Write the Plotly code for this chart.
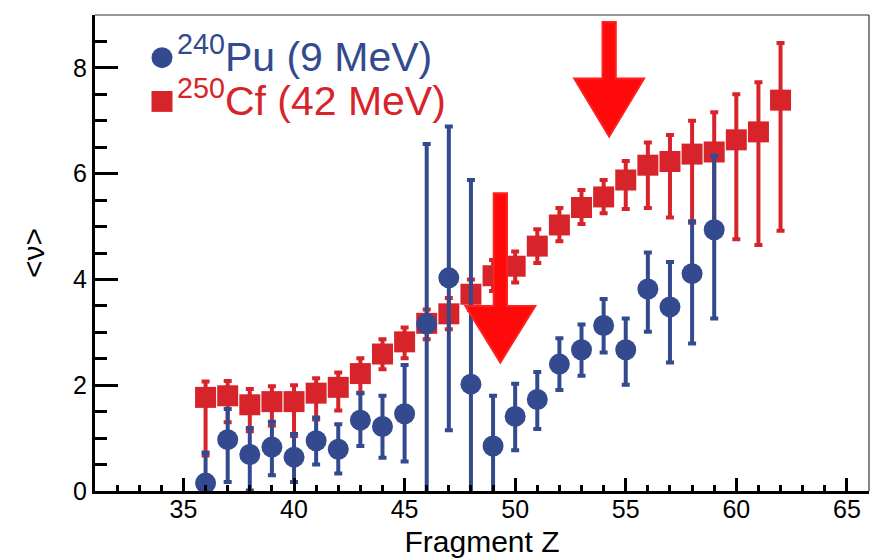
import plotly.graph_objects as go

# Mean neutron multiplicity vs fragment charge
z_pu = list(range(36, 60))
nu_pu = [0.15, 0.97, 0.69, 0.83, 0.64, 0.95, 0.79, 1.34, 1.22, 1.46, 3.16, 4.03,
         2.02, 0.85, 1.41, 1.73, 2.40, 2.67, 3.13, 2.67, 3.82, 3.48, 4.11, 4.94]
err_pu_hi = [0.58, 0.58, 0.50, 0.48, 0.44, 0.44, 0.47, 0.51, 0.58, 0.92, 3.40, 2.86,
             3.86, 0.95, 0.62, 0.52, 0.49, 0.48, 0.50, 0.59, 0.69, 0.85, 0.99, 1.40]
err_pu_lo = [0.58, 0.80, 0.68, 0.53, 0.47, 0.45, 0.46, 0.49, 0.59, 0.90, 3.40, 2.88,
             3.86, 0.95, 0.64, 0.56, 0.49, 0.49, 0.51, 0.66, 0.81, 1.05, 1.32, 1.68]

z_cf = list(range(36, 63))
nu_cf = [1.77, 1.80, 1.63, 1.69, 1.69, 1.85, 1.96, 2.22, 2.59, 2.82, 3.17, 3.35, 3.72, 4.07,
         4.25, 4.63, 5.03, 5.36, 5.56, 5.88, 6.16, 6.23, 6.37, 6.41, 6.64, 6.79, 7.39]
err_cf_hi = [0.30, 0.28, 0.30, 0.29, 0.31, 0.28, 0.28, 0.29, 0.28, 0.27, 0.26, 0.30, 0.28, 0.30,
             0.28, 0.32, 0.32, 0.33, 0.32, 0.36, 0.43, 0.50, 0.63, 0.75, 0.86, 0.94, 1.08]
err_cf_lo = [1.10, 0.50, 0.50, 0.45, 0.65, 0.50, 0.44, 0.36, 0.29, 0.31, 0.30, 0.29, 0.30, 0.29,
             0.31, 0.32, 0.31, 0.31, 0.31, 0.55, 0.81, 1.06, 1.30, 1.60, 1.88, 2.14, 2.47]

legend_labels = ["<sup>240</sup>Pu (9 MeV)", "<sup>250</sup>Cf (42 MeV)"]

# Highlight arrows: (x centre, shaft top, head top, tip) in data units
arrows = [(49.33, 5.63, 3.50, 2.43), (54.25, 8.87, 7.80, 6.70)]

BLUE = "#344a8f"
RED = "#d7242b"
FONT = "Liberation Sans, Arial, Helvetica, sans-serif"

fig = go.Figure()

fig.add_trace(go.Scatter(
    x=z_cf, y=nu_cf, mode="markers",
    marker=dict(symbol="square", size=21, color=RED),
    error_y=dict(type="data", symmetric=False, array=err_cf_hi, arrayminus=err_cf_lo,
                 color=RED, thickness=4, width=4),
    showlegend=False, cliponaxis=True,
))
fig.add_trace(go.Scatter(
    x=z_pu, y=nu_pu, mode="markers",
    marker=dict(symbol="circle", size=21, color=BLUE),
    error_y=dict(type="data", symmetric=False, array=err_pu_hi, arrayminus=err_pu_lo,
                 color=BLUE, thickness=4, width=4),
    showlegend=False, cliponaxis=True,
))

shapes = []
# thin frame on top and right
shapes.append(dict(type="line", xref="paper", yref="paper", x0=0, x1=1, y0=1, y1=1,
                   line=dict(color="#333333", width=1.2)))
shapes.append(dict(type="line", xref="paper", yref="paper", x0=1, x1=1, y0=0, y1=1,
                   line=dict(color="#333333", width=1.2)))

# arrows
for xc, top, head, tip in arrows:
    sw, hw = 0.30, 1.58
    path = (f"M {xc - sw} {top} L {xc + sw} {top} L {xc + sw} {head} "
            f"L {xc + hw} {head} L {xc} {tip} L {xc - hw} {head} "
            f"L {xc - sw} {head} Z")
    shapes.append(dict(type="path", xref="x", yref="y", path=path,
                       fillcolor="#ff0a0a", line=dict(color="#ff2020", width=2),
                       layer="above"))

# legend symbols
pw, ph = 774.0, 479.0
r = 10.5
cx = (162 - 95) / pw
for i, (kind, col) in enumerate([("circle", BLUE), ("rect", RED)]):
    cy = (494 - (58 + 44 * i)) / ph
    shapes.append(dict(type=kind, xref="paper", yref="paper",
                       x0=cx - r / pw, x1=cx + r / pw, y0=cy - r / ph, y1=cy + r / ph,
                       fillcolor=col, line=dict(width=0)))

annotations = []
for i, (txt, col) in enumerate(zip(legend_labels, [BLUE, RED])):
    cy = (494 - (54 + 45 * i)) / ph
    annotations.append(dict(text=txt, xref="paper", yref="paper",
                            x=(175 - 95) / pw, y=cy, xanchor="left", yanchor="middle",
                            showarrow=False, font=dict(family=FONT, size=41, color=col)))

fig.update_layout(
    width=873, height=558,
    margin=dict(l=95, r=4, t=15, b=64),
    paper_bgcolor="white", plot_bgcolor="white",
    font=dict(family=FONT, color="black"),
    shapes=shapes, annotations=annotations,
    xaxis=dict(
        range=[31, 66], tick0=0, dtick=5, ticks="inside", ticklen=13, tickwidth=3,
        tickcolor="black", showline=True, linecolor="black", linewidth=3,
        showgrid=False, zeroline=False, tickfont=dict(size=25, family=FONT),
        ticklabelstandoff=-6,
        minor=dict(dtick=1, ticks="inside", ticklen=6, tickwidth=3, tickcolor="black",
                   showgrid=False),
        title=dict(text="Fragment Z", font=dict(size=30, family=FONT), standoff=10),
    ),
    yaxis=dict(
        range=[0, 9], tick0=0, dtick=2, ticks="inside", ticklen=23, tickwidth=3,
        tickcolor="black", showline=True, linecolor="black", linewidth=3,
        showgrid=False, zeroline=False, tickfont=dict(size=25, family=FONT),
        minor=dict(dtick=0.5, ticks="inside", ticklen=12, tickwidth=3, tickcolor="black",
                   showgrid=False),
        title=dict(text="&lt;ν&gt;", font=dict(size=30, family=FONT), standoff=20),
    ),
)

fig.write_html("out.html")
